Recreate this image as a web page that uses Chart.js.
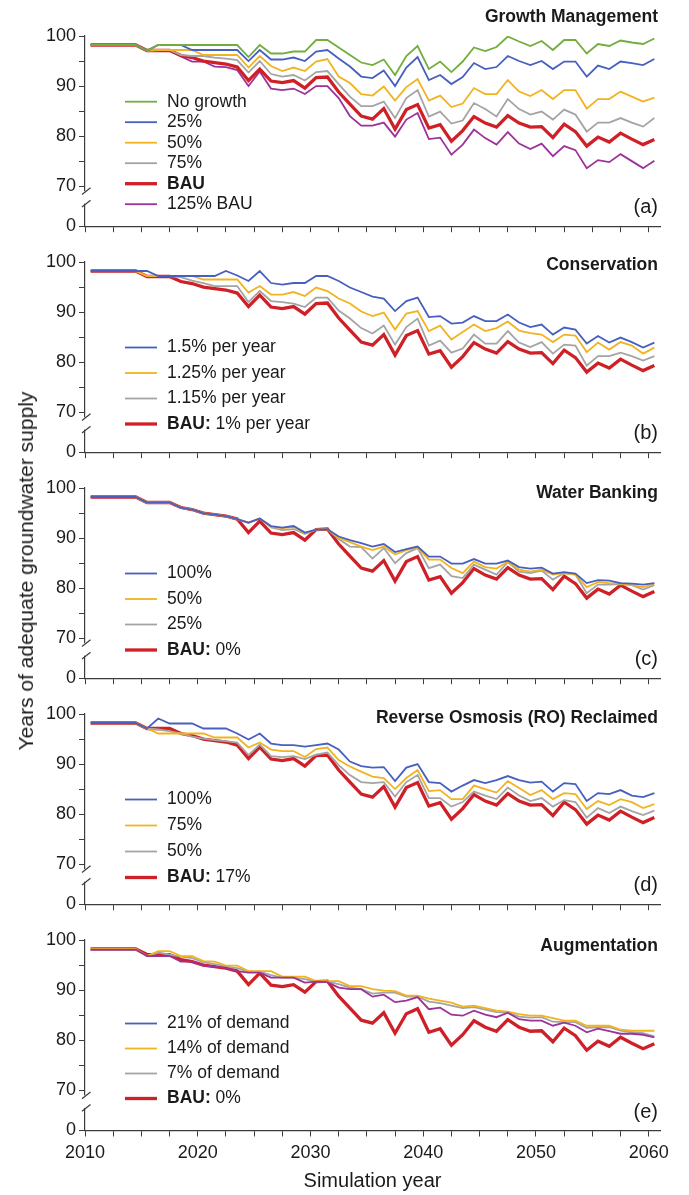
<!DOCTYPE html>
<html>
<head>
<meta charset="utf-8">
<script src="https://cdn.jsdelivr.net/npm/chart.js@4.4.1/dist/chart.umd.min.js"></script>
<style>
  html, body { margin: 0; padding: 0; background: #fff; }
  #wrap { position: relative; width: 689px; height: 1195px; overflow: hidden; }
  #wrap canvas { position: absolute; left: 0; }
  #ytitle {
    position: absolute; left: 26px; top: 571px;
    transform: translate(-50%, -50%) rotate(-90deg);
    white-space: nowrap; color: #1a1a1a;
    font: 21px 'Liberation Sans', Arial, sans-serif;
  }
</style>
</head>
<body>
<div id="wrap">
  <canvas id="c0" width="689" height="240" style="top:0px"></canvas>
  <canvas id="c1" width="689" height="240" style="top:226px"></canvas>
  <canvas id="c2" width="689" height="240" style="top:452px"></canvas>
  <canvas id="c3" width="689" height="240" style="top:678px"></canvas>
  <canvas id="c4" width="689" height="291" style="top:904px"></canvas>
  <div id="ytitle">Years of adequate groundwater supply</div>
</div>
<script>
// simulation years (points sit in the middle of each year)
var years = [2010, 2011, 2012, 2013, 2014, 2015, 2016, 2017, 2018, 2019,
             2020, 2021, 2022, 2023, 2024, 2025, 2026, 2027, 2028, 2029,
             2030, 2031, 2032, 2033, 2034, 2035, 2036, 2037, 2038, 2039,
             2040, 2041, 2042, 2043, 2044, 2045, 2046, 2047, 2048, 2049,
             2050, 2051, 2052, 2053, 2054, 2055, 2056, 2057, 2058, 2059,
             2060];
var xTicks = [2010, 2012.5, 2015, 2017.5, 2020, 2022.5, 2025, 2027.5, 2030, 2032.5,
              2035, 2037.5, 2040, 2042.5, 2045, 2047.5, 2050, 2052.5, 2055, 2057.5, 2060];
// broken axis: 62 on the scale is shown as "0"
var yZero = 62;
var yTicks = [62, 70, 75, 80, 85, 90, 95, 100];

// business as usual, same in every panel
var bau = [98.2, 98.2, 98.2, 98.2, 98.2, 97.1, 97.1, 97.1, 96.1, 95.7,
           95.0, 94.7, 94.4, 93.8, 91.1, 93.4, 91.0, 90.7, 91.1, 89.6,
           91.7, 91.8, 88.8, 86.4, 84.0, 83.4, 85.5, 81.4, 85.3, 86.3,
           81.6, 82.3, 79.0, 81.1, 83.9, 82.6, 81.8, 84.1, 82.6, 81.8,
           81.9, 79.7, 82.4, 80.9, 78.0, 79.8, 78.8, 80.6, 79.4, 78.3,
           79.3];

// (a) growth management
var noGrowth = [98.2, 98.2, 98.2, 98.2, 98.2, 97.1, 98.2, 98.2, 98.2, 98.2,
                98.2, 98.2, 98.2, 98.2, 95.8, 98.2, 96.5, 96.5, 96.9, 96.9,
                99.2, 99.2, 97.7, 96.2, 94.7, 94.2, 95.3, 92.2, 96.0, 98.0,
                93.4, 94.9, 92.8, 94.9, 97.7, 97.0, 97.8, 99.9, 98.9, 98.0,
                99.0, 97.2, 99.2, 99.2, 96.5, 98.4, 98.0, 99.1, 98.7, 98.4,
                99.5];
var growth25 = [98.2, 98.2, 98.2, 98.2, 98.2, 97.1, 98.2, 98.2, 98.2, 97.2,
                97.2, 97.2, 97.2, 97.2, 95.0, 97.2, 95.3, 95.3, 95.7, 95.0,
                96.9, 97.2, 95.5, 93.9, 91.9, 91.6, 93.1, 90.0, 93.7, 95.8,
                91.2, 92.2, 90.4, 91.8, 94.6, 93.4, 93.8, 96.0, 95.0, 94.2,
                95.0, 93.4, 94.9, 94.9, 91.9, 94.1, 93.4, 94.9, 94.6, 94.2,
                95.4];
var growth50 = [98.2, 98.2, 98.2, 98.2, 98.2, 97.1, 97.2, 97.2, 97.2, 97.2,
                96.2, 96.2, 96.2, 96.2, 93.7, 96.0, 94.0, 93.0, 93.7, 93.0,
                94.9, 95.4, 91.9, 90.6, 88.4, 88.1, 89.9, 87.1, 89.8, 91.4,
                87.1, 88.1, 85.8, 86.5, 89.6, 88.4, 88.4, 91.2, 88.9, 88.0,
                89.2, 87.4, 89.2, 89.2, 85.5, 87.4, 87.4, 88.9, 87.9, 86.9,
                87.7];
var growth75 = [98.2, 98.2, 98.2, 98.2, 98.2, 97.1, 97.2, 97.2, 96.2, 96.0,
                96.0, 95.7, 95.5, 95.2, 92.7, 95.0, 92.4, 91.9, 92.2, 91.1,
                92.8, 93.0, 90.4, 87.9, 86.0, 86.0, 86.9, 83.6, 87.6, 89.2,
                83.9, 84.9, 82.5, 83.1, 86.6, 85.4, 83.9, 87.4, 85.4, 84.3,
                84.9, 83.3, 85.3, 84.3, 80.9, 82.7, 82.7, 83.6, 82.7, 81.9,
                83.6];
var growth125 = [98.2, 98.2, 98.2, 98.2, 98.2, 97.1, 97.1, 97.1, 95.9, 94.9,
                 94.9, 93.9, 93.8, 93.2, 90.0, 92.9, 89.5, 89.2, 89.5, 88.4,
                 90.0, 90.0, 87.6, 84.0, 82.1, 82.1, 82.7, 79.9, 83.3, 84.6,
                 79.4, 79.7, 76.3, 78.3, 81.3, 79.6, 78.3, 80.8, 78.5, 77.4,
                 78.5, 76.0, 78.0, 77.2, 73.6, 75.2, 74.8, 76.4, 75.0, 73.6,
                 75.1];

// (b) conservation
var cons150 = [98.2, 98.2, 98.2, 98.2, 98.2, 98.2, 97.2, 97.2, 97.2, 97.2,
               97.2, 97.2, 98.2, 97.3, 96.2, 98.2, 95.8, 95.5, 95.8, 95.8,
               97.2, 97.2, 96.2, 94.9, 94.0, 93.1, 92.7, 90.2, 92.2, 92.9,
               89.0, 89.2, 87.7, 87.9, 89.2, 88.2, 88.2, 89.5, 87.9, 87.0,
               87.5, 85.5, 86.9, 86.5, 83.7, 85.2, 83.9, 84.9, 84.0, 82.9,
               83.9];
var cons125 = [98.2, 98.2, 98.2, 98.2, 98.2, 97.2, 97.2, 97.2, 97.2, 97.2,
               96.5, 96.5, 96.5, 96.5, 93.9, 95.2, 93.5, 93.5, 94.0, 93.2,
               94.9, 94.2, 92.7, 91.7, 90.1, 89.2, 89.9, 86.5, 89.7, 90.2,
               86.2, 87.3, 84.5, 86.0, 87.5, 86.2, 86.8, 88.1, 86.3, 85.8,
               85.5, 84.0, 85.5, 85.3, 82.0, 83.9, 82.5, 84.0, 83.3, 81.7,
               82.9];
var cons115 = [98.2, 98.2, 98.2, 98.2, 98.2, 97.2, 97.2, 97.2, 97.0, 96.3,
               95.8, 95.2, 95.2, 95.2, 92.0, 94.2, 92.2, 92.0, 91.7, 91.0,
               92.9, 92.9, 90.3, 88.7, 86.8, 85.7, 87.3, 83.5, 87.0, 88.7,
               83.3, 84.3, 81.9, 82.7, 85.5, 83.7, 83.7, 86.2, 83.9, 83.0,
               84.0, 81.7, 83.5, 83.3, 79.3, 81.2, 81.2, 81.9, 81.2, 80.3,
               81.2];

// (c) water banking
var bank100 = [98.2, 98.2, 98.2, 98.2, 98.2, 97.1, 97.1, 97.1, 96.1, 95.7,
               95.0, 94.7, 94.4, 93.8, 93.1, 93.9, 92.4, 92.1, 92.4, 91.1,
               91.7, 91.8, 90.3, 89.6, 89.0, 88.3, 88.8, 87.2, 87.8, 88.3,
               86.3, 86.3, 84.9, 84.9, 85.8, 84.9, 84.9, 85.5, 84.2, 83.9,
               84.1, 82.9, 83.2, 82.9, 81.0, 81.6, 81.5, 81.0, 80.9, 80.7,
               81.0];
var bank50 = [98.2, 98.2, 98.2, 98.2, 98.2, 97.1, 97.1, 97.1, 96.1, 95.7,
              95.0, 94.7, 94.4, 93.8, 93.1, 93.9, 92.3, 92.0, 92.2, 91.0,
              91.7, 91.8, 90.0, 89.2, 88.3, 87.6, 88.3, 86.7, 87.6, 88.1,
              85.7, 85.7, 84.0, 83.0, 85.3, 84.2, 83.9, 85.3, 83.7, 83.3,
              83.7, 82.7, 83.0, 82.7, 80.2, 81.2, 81.0, 80.9, 80.6, 80.2,
              80.8];
var bank25 = [98.2, 98.2, 98.2, 98.2, 98.2, 97.1, 97.1, 97.1, 96.1, 95.7,
              95.0, 94.7, 94.4, 93.8, 93.0, 93.9, 92.1, 91.6, 91.8, 90.8,
              91.7, 91.8, 89.8, 88.3, 88.2, 85.9, 88.0, 85.0, 87.0, 88.0,
              84.0, 84.7, 82.4, 82.0, 84.7, 83.7, 82.7, 85.2, 83.3, 83.0,
              83.5, 81.7, 83.0, 82.7, 79.0, 80.7, 80.7, 80.8, 80.6, 79.7,
              80.6];

// (d) reverse osmosis reclaimed
var ro100 = [98.2, 98.2, 98.2, 98.2, 98.2, 97.1, 99.1, 98.1, 98.1, 98.1,
             97.1, 97.1, 97.1, 96.1, 94.9, 96.1, 94.1, 93.8, 93.8, 93.5,
             93.8, 94.1, 92.9, 90.5, 89.6, 89.3, 89.4, 86.6, 89.3, 90.0,
             86.4, 86.2, 84.5, 85.7, 86.8, 86.2, 86.8, 87.6, 86.8, 86.3,
             86.5, 84.5, 86.2, 86.0, 82.6, 84.2, 84.0, 84.8, 83.7, 83.4,
             84.2];
var ro75 = [98.2, 98.2, 98.2, 98.2, 98.2, 97.1, 96.1, 96.1, 96.1, 96.1,
            96.1, 95.3, 95.3, 95.3, 93.3, 94.3, 92.9, 92.6, 92.6, 91.4,
            93.0, 93.3, 90.8, 89.5, 88.5, 87.5, 87.2, 85.0, 87.2, 88.8,
            84.6, 84.8, 83.0, 83.0, 85.7, 85.0, 84.3, 86.6, 85.2, 83.8,
            84.8, 83.0, 84.2, 84.0, 81.0, 82.6, 81.8, 83.0, 82.4, 81.2,
            82.0];
var ro50 = [98.2, 98.2, 98.2, 98.2, 98.2, 97.1, 96.9, 96.6, 96.1, 95.5,
            95.1, 94.8, 94.6, 94.3, 91.8, 93.9, 91.6, 91.4, 91.6, 91.0,
            91.9, 92.3, 89.8, 87.8, 86.4, 86.2, 86.4, 83.5, 86.4, 87.8,
            83.2, 83.2, 81.5, 82.4, 84.5, 83.7, 83.0, 85.3, 83.7, 82.6,
            83.2, 81.5, 82.8, 82.4, 79.3, 81.2, 80.2, 81.5, 80.6, 79.8,
            80.7];

// (e) augmentation
var aug21 = [98.1, 98.1, 98.1, 98.1, 98.1, 96.8, 96.8, 96.8, 95.7, 95.7,
             94.9, 94.7, 94.5, 93.8, 93.5, 93.5, 92.5, 92.5, 92.5, 91.5,
             91.7, 91.6, 90.5, 90.2, 90.2, 88.7, 89.1, 87.6, 87.9, 88.6,
             86.2, 86.5, 85.1, 84.9, 85.9, 85.1, 84.6, 85.5, 84.2, 83.9,
             83.9, 82.9, 83.5, 82.9, 81.6, 82.3, 81.8, 81.3, 81.3, 81.1,
             80.6];
var aug14 = [98.2, 98.2, 98.2, 98.2, 98.2, 96.8, 97.8, 97.8, 96.8, 96.8,
             95.8, 95.7, 94.9, 94.9, 93.8, 93.8, 93.8, 92.7, 92.7, 92.7,
             91.8, 91.8, 91.8, 90.8, 90.8, 90.2, 89.9, 89.8, 88.9, 88.9,
             88.3, 87.9, 87.5, 86.7, 86.9, 86.4, 85.9, 85.7, 85.2, 84.9,
             84.9, 84.4, 83.9, 83.9, 82.9, 82.9, 82.9, 82.1, 81.9, 81.9,
             81.9];
var aug7 = [98.1, 98.1, 98.1, 98.1, 98.1, 96.8, 97.5, 97.1, 96.7, 96.4,
            95.6, 95.2, 94.7, 94.4, 93.7, 93.7, 93.0, 92.5, 92.5, 92.2,
            91.7, 91.7, 91.2, 90.5, 90.2, 89.3, 89.5, 89.5, 88.7, 88.7,
            87.7, 87.4, 86.9, 86.4, 86.6, 86.1, 85.6, 85.5, 84.7, 84.5,
            84.6, 83.7, 83.6, 83.6, 82.5, 82.6, 82.6, 81.9, 81.6, 81.4,
            80.8];

var GREEN = '#72ad3e', BLUE = '#4760bf', YELLOW = '#f1b31f', GRAY = '#a4a4a4',
    RED = '#cf1f27', PURPLE = '#9b3399', AXIS = '#3c3c3c', INK = '#1a1a1a';
var FONT = "'Liberation Sans', Arial, sans-serif";

// panel title, letter, in-plot legend and the axis break
var decor = {
  id: 'decor',
  afterDraw: function (chart, args, o) {
    var ctx = chart.ctx, a = chart.chartArea, ys = chart.scales.y;
    ctx.save();

    var ax = a.left, b1 = ys.getPixelForValue(69), b2 = ys.getPixelForValue(66.5);
    ctx.fillStyle = '#fff';
    ctx.fillRect(ax - 2.5, b1, 5, b2 - b1);
    ctx.strokeStyle = AXIS;
    ctx.lineWidth = 1.2;
    [b1, b2].forEach(function (y) {
      ctx.beginPath();
      ctx.moveTo(ax - 3, y + 3.4);
      ctx.lineTo(ax + 5.5, y - 3.4);
      ctx.stroke();
    });

    ctx.fillStyle = INK;
    ctx.textAlign = 'right';
    ctx.textBaseline = 'middle';
    ctx.font = 'bold 17.5px ' + FONT;
    ctx.fillText(o.title, a.right - 2, a.top + o.titleDy);
    ctx.font = '20px ' + FONT;
    ctx.fillText(o.tag, a.right - 2, a.bottom - 18.5);

    ctx.textAlign = 'left';
    chart.data.datasets.forEach(function (ds, i) {
      var y = a.top + o.legTop + i * o.legStep;
      ctx.strokeStyle = ds.legendColor || ds.borderColor;
      ctx.lineWidth = ds.borderWidth;
      ctx.beginPath();
      ctx.moveTo(a.left + 40, y);
      ctx.lineTo(a.left + 72, y);
      ctx.stroke();

      var lab = ds.label, bold = '', rest = lab, x = a.left + 82;
      if (lab.indexOf('BAU') === 0) {
        var k = lab.indexOf(':');
        bold = k < 0 ? 'BAU' : lab.slice(0, k + 1);
        rest = lab.slice(bold.length);
      }
      if (bold) {
        ctx.font = 'bold 17.5px ' + FONT;
        ctx.fillText(bold, x, y);
        x += ctx.measureText(bold).width;
      }
      ctx.font = '17.5px ' + FONT;
      ctx.fillText(rest, x, y);
    });
    ctx.restore();
  }
};

function makePanel(id, series, deco, last) {
  var datasets = series.map(function (s) {
    return {
      label: s[0],
      data: years.map(function (yr, i) { return {x: yr + 0.5, y: s[1][i]}; }),
      borderColor: s[2],
      borderWidth: s[3] || 1.8,
      legendColor: s[4],
      pointRadius: 0,
      fill: false,
      tension: 0
    };
  });
  new Chart(document.getElementById(id), {
    type: 'line',
    data: {datasets: datasets},
    plugins: [decor],
    options: {
      responsive: false,
      animation: false,
      devicePixelRatio: 1,
      layout: {padding: {top: 36, right: 29, bottom: last ? 0 : 3.5, left: 0}},
      plugins: {legend: {display: false}, tooltip: {enabled: false}, decor: deco},
      scales: {
        x: {
          type: 'linear', min: 2010, max: 2061,
          afterBuildTicks: function (s) { s.ticks = xTicks.map(function (v) { return {value: v}; }); },
          afterFit: function (s) { s.height = last ? 64.5 : 10; },
          grid: {drawOnChartArea: false, tickLength: 6, color: AXIS},
          border: {color: AXIS, width: 1.2},
          ticks: {
            display: last, autoSkip: false, maxRotation: 0, padding: 6, color: INK,
            font: {size: 18, family: FONT},
            callback: function (v) { return v % 10 === 0 ? String(v) : ''; }
          },
          title: {
            display: last, text: 'Simulation year', color: INK,
            font: {size: 20, family: FONT}, padding: {top: 0, bottom: 2}
          }
        },
        y: {
          min: yZero, max: 100,
          afterBuildTicks: function (s) { s.ticks = yTicks.map(function (v) { return {value: v}; }); },
          afterFit: function (s) { s.width = 85; },
          grid: {drawOnChartArea: false, tickLength: 6, color: AXIS},
          border: {color: AXIS, width: 1.2},
          ticks: {
            autoSkip: false, padding: 3, color: INK,
            font: {size: 18, family: FONT},
            callback: function (v) { return v === yZero ? '0' : (v % 10 === 0 ? String(v) : ''); }
          }
        }
      }
    }
  });
}

makePanel('c0', [
  ['No growth', noGrowth, GREEN],
  ['25%', growth25, BLUE],
  ['50%', growth50, YELLOW],
  ['75%', growth75, GRAY],
  ['BAU', bau, RED, 3.3],
  ['125% BAU', growth125, PURPLE]
], {title: 'Growth Management', titleDy: -18.5, tag: '(a)', legTop: 65.7, legStep: 20.5}, false);

makePanel('c1', [
  ['1.5% per year', cons150, BLUE],
  ['1.25% per year', cons125, YELLOW],
  ['1.15% per year', cons115, GRAY],
  ['BAU: 1% per year', bau, RED, 3.3]
], {title: 'Conservation', titleDy: 3.5, tag: '(b)', legTop: 85.5, legStep: 25.5}, false);

makePanel('c2', [
  ['100%', bank100, BLUE],
  ['50%', bank50, YELLOW],
  ['25%', bank25, GRAY],
  ['BAU: 0%', bau, RED, 3.3]
], {title: 'Water Banking', titleDy: 5.5, tag: '(c)', legTop: 85.5, legStep: 25.5}, false);

makePanel('c3', [
  ['100%', ro100, BLUE],
  ['75%', ro75, YELLOW],
  ['50%', ro50, GRAY],
  ['BAU: 17%', bau, RED, 3.3]
], {title: 'Reverse Osmosis (RO) Reclaimed', titleDy: 4, tag: '(d)', legTop: 85.5, legStep: 26}, false);

makePanel('c4', [
  ['21% of demand', aug21, PURPLE, 1.8, BLUE],
  ['14% of demand', aug14, YELLOW],
  ['7% of demand', aug7, GRAY],
  ['BAU: 0%', bau, RED, 3.3]
], {title: 'Augmentation', titleDy: 6, tag: '(e)', legTop: 83.5, legStep: 25}, true);
</script>
</body>
</html>
